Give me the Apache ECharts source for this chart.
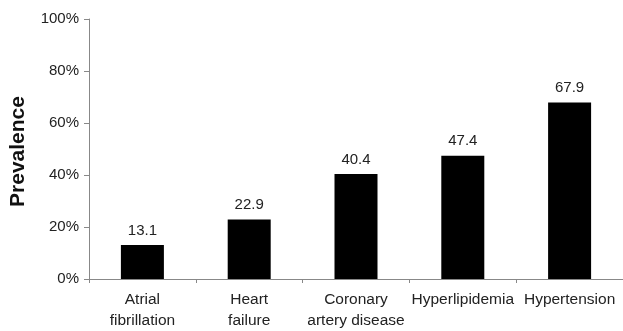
<!DOCTYPE html>
<html>
<head>
<meta charset="utf-8">
<script src="https://cdn.jsdelivr.net/npm/echarts@6/dist/echarts.min.js"></script>
<style>
html,body{margin:0;padding:0;background:#fff;}
#main{width:623px;height:331px;}
</style>
</head>
<body>
<div id="main"></div>
<script>
var categories=['Atrial\nfibrillation','Heart\nfailure','Coronary\nartery disease','Hyperlipidemia','Hypertension'];
var prevalence=[13.1,22.9,40.4,47.4,67.9];
var yTicks=[0,20,40,60,80,100];

var chart=echarts.init(document.getElementById('main'));
chart.setOption({
    animation:false,
    grid:{left:88,right:0,top:19,bottom:51},
    xAxis:{
        type:'category',
        data:categories,
        axisLine:{lineStyle:{color:'#888',width:1}},
        axisTick:{show:true,length:4,lineStyle:{color:'#888'}},
        axisLabel:{interval:0,color:'#222',fontSize:15.5,fontFamily:'Liberation Sans, Arial',lineHeight:21,margin:10}
    },
    yAxis:{
        type:'value',
        min:yTicks[0],
        max:yTicks[yTicks.length-1],
        interval:20,
        name:'Prevalence',
        nameLocation:'middle',
        nameGap:60,
        nameTextStyle:{fontSize:21,fontWeight:'bold',color:'#111',fontFamily:'Liberation Sans, Arial',padding:[0,5,0,0]},
        axisLine:{show:true,lineStyle:{color:'#888',width:1}},
        axisTick:{show:true,length:5,lineStyle:{color:'#888'}},
        splitLine:{show:false},
        axisLabel:{color:'#222',fontSize:15,fontFamily:'Liberation Sans, Arial',margin:10,formatter:'{value}%'}
    },
    series:[{
        type:'bar',
        data:prevalence,
        barWidth:43,
        itemStyle:{color:'#000'},
        label:{show:true,position:'top',distance:7,color:'#222',fontSize:15,fontFamily:'Liberation Sans, Arial'}
    }]
});
</script>
</body>
</html>
